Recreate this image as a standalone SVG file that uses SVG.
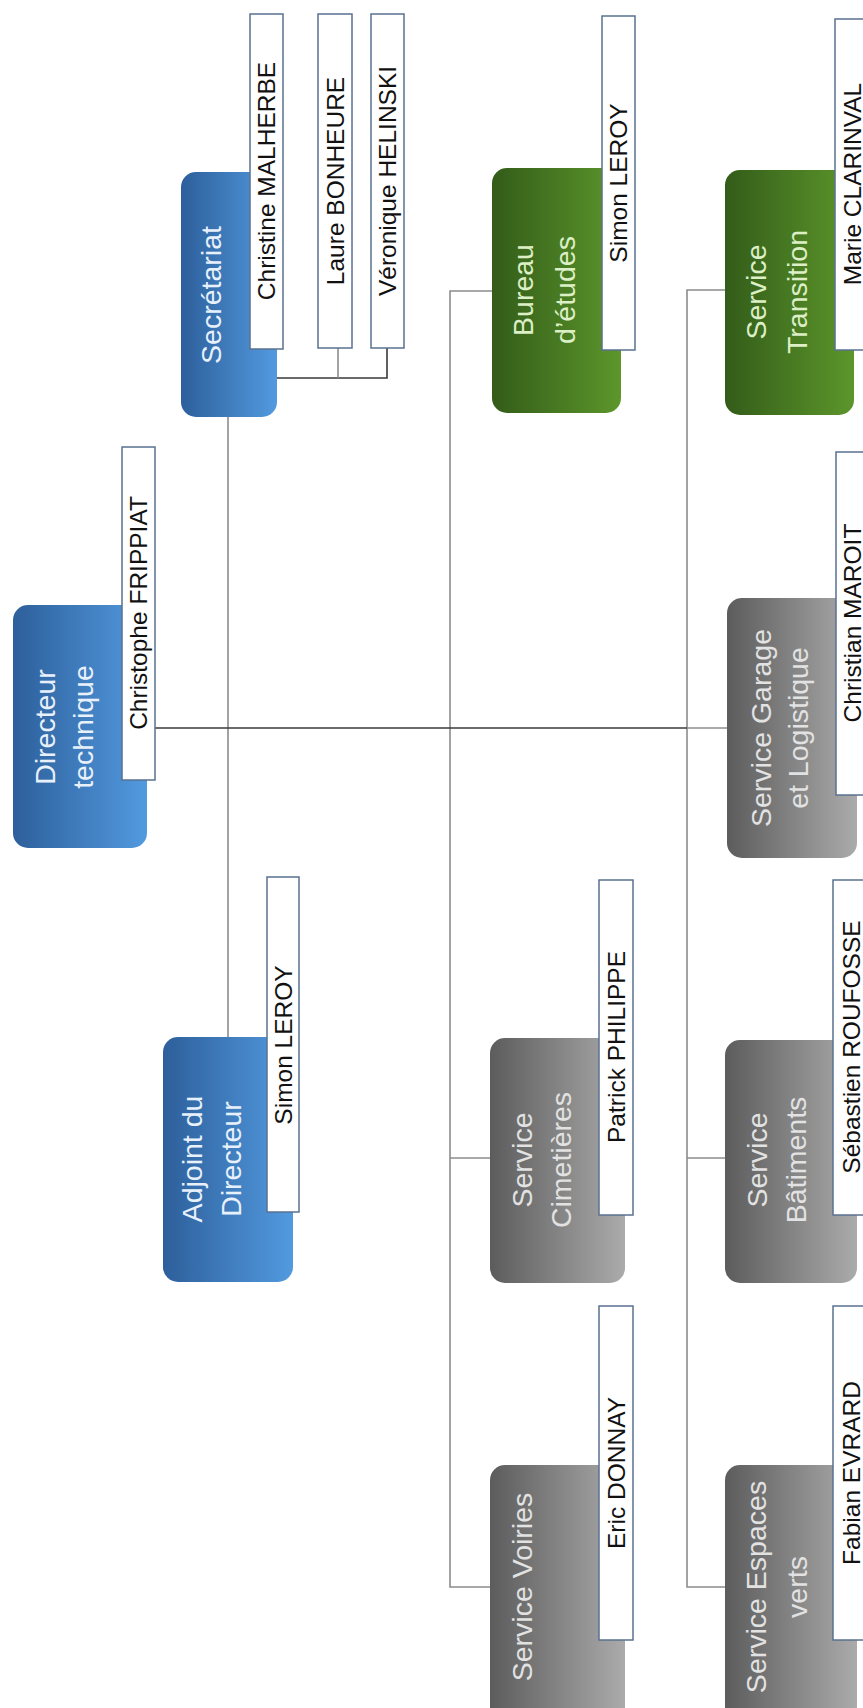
<svg xmlns="http://www.w3.org/2000/svg" width="863" height="1708" viewBox="0 0 863 1708">
<defs>
<linearGradient id="gBlue" x1="0" y1="0" x2="1" y2="0"><stop offset="0" stop-color="#2d5f9b"/><stop offset="1" stop-color="#529adf"/></linearGradient>
<linearGradient id="gGreen" x1="0" y1="0" x2="1" y2="0"><stop offset="0" stop-color="#335c19"/><stop offset="1" stop-color="#5c962b"/></linearGradient>
<linearGradient id="gGray" x1="0" y1="0" x2="1" y2="0"><stop offset="0" stop-color="#5c5c5c"/><stop offset="1" stop-color="#ababab"/></linearGradient>
<style>
.blue{fill:url(#gBlue)}
.green{fill:url(#gGreen)}
.gray{fill:url(#gGray)}
.nb{fill:#ffffff;stroke:#5a7290;stroke-width:1.5}
.t{font-family:"Liberation Sans",Arial,sans-serif;font-size:28.5px;text-anchor:middle;dominant-baseline:central}
.tb{fill:#e8f1fb}
.tg{fill:#dcefc6}
.tgr{fill:#e2e2e2}
.n{font-family:"Liberation Sans",Arial,sans-serif;font-size:24.5px;fill:#111;text-anchor:middle;dominant-baseline:central}
.cg{fill:none;stroke:#8c8c8c;stroke-width:1.6}
.cd{fill:none;stroke:#3a3a3a;stroke-width:1.6}
</style>
</defs>
<rect width="863" height="1708" fill="#ffffff"/>

<g id="connectors">
<path class="cg" d="M228 417 V1037"/>
<path class="cg" d="M492 291 H450 V1587 H490"/>
<path class="cg" d="M450 1158 H490"/>
<path class="cg" d="M725 290 H687 V1587 H725"/>
<path class="cg" d="M687 1158 H725"/>
<path class="cg" d="M687 728 H727"/>
<path class="cd" d="M155 728 H687"/>
<path class="cd" d="M277 378 H387 V348"/>
<path class="cg" d="M338 348 V378"/>
</g>

<g id="directeur">
<rect class="blue" x="13" y="605" width="134" height="243" rx="15"/>
<text class="t tb" transform="translate(45,727) rotate(-90)">Directeur</text>
<text class="t tb" transform="translate(83,727) rotate(-90)">technique</text>
<rect class="nb" x="122" y="447" width="33" height="333"/>
<text class="n" transform="translate(138.5,613) rotate(-90)">Christophe FRIPPIAT</text>
</g>

<g id="secretariat">
<rect class="blue" x="181" y="172" width="96" height="245" rx="15"/>
<text class="t tb" transform="translate(211,295) rotate(-90)">Secrétariat</text>
<rect class="nb" x="250" y="14" width="33" height="335"/>
<text class="n" transform="translate(266.5,181) rotate(-90)">Christine MALHERBE</text>
</g>

<g id="laure">
<rect class="nb" x="318" y="14" width="34" height="334"/>
<text class="n" transform="translate(335,181) rotate(-90)">Laure BONHEURE</text>
</g>

<g id="veronique">
<rect class="nb" x="371" y="14" width="33" height="334"/>
<text class="n" transform="translate(387.5,181) rotate(-90)">Véronique HELINSKI</text>
</g>

<g id="adjoint">
<rect class="blue" x="163" y="1037" width="130" height="245" rx="15"/>
<text class="t tb" transform="translate(192,1159) rotate(-90)">Adjoint du</text>
<text class="t tb" transform="translate(231,1159) rotate(-90)">Directeur</text>
<rect class="nb" x="267" y="877" width="32" height="335"/>
<text class="n" transform="translate(283,1045) rotate(-90)">Simon LEROY</text>
</g>

<g id="bureau">
<rect class="green" x="492" y="168" width="129" height="245" rx="15"/>
<text class="t tg" transform="translate(523,290) rotate(-90)">Bureau</text>
<text class="t tg" transform="translate(565,290) rotate(-90)">d’études</text>
<rect class="nb" x="602" y="16" width="33" height="334"/>
<text class="n" transform="translate(618.5,183) rotate(-90)">Simon LEROY</text>
</g>

<g id="transition">
<rect class="green" x="725" y="170" width="129" height="245" rx="15"/>
<text class="t tg" transform="translate(756,292) rotate(-90)">Service</text>
<text class="t tg" transform="translate(797,292) rotate(-90)">Transition</text>
<rect class="nb" x="835" y="19" width="34" height="331"/>
<text class="n" transform="translate(852,184) rotate(-90)">Marie CLARINVAL</text>
</g>

<g id="garage">
<rect class="gray" x="727" y="598" width="130" height="260" rx="15"/>
<text class="t tgr" transform="translate(761,728) rotate(-90)">Service Garage</text>
<text class="t tgr" transform="translate(798,728) rotate(-90)">et Logistique</text>
<rect class="nb" x="836" y="452" width="33" height="343"/>
<text class="n" transform="translate(852.5,623) rotate(-90)">Christian MAROIT</text>
</g>

<g id="cimetieres">
<rect class="gray" x="490" y="1038" width="135" height="245" rx="15"/>
<text class="t tgr" transform="translate(522,1160) rotate(-90)">Service</text>
<text class="t tgr" transform="translate(561,1160) rotate(-90)">Cimetières</text>
<rect class="nb" x="599" y="880" width="34" height="335"/>
<text class="n" transform="translate(616,1047) rotate(-90)">Patrick PHILIPPE</text>
</g>

<g id="batiments">
<rect class="gray" x="725" y="1040" width="132" height="243" rx="15"/>
<text class="t tgr" transform="translate(757,1160) rotate(-90)">Service</text>
<text class="t tgr" transform="translate(796,1160) rotate(-90)">Bâtiments</text>
<rect class="nb" x="833" y="880" width="36" height="335"/>
<text class="n" transform="translate(851,1047) rotate(-90)">Sébastien ROUFOSSE</text>
</g>

<g id="voiries">
<rect class="gray" x="490" y="1465" width="135" height="260" rx="15"/>
<text class="t tgr" transform="translate(522,1587) rotate(-90)">Service Voiries</text>
<rect class="nb" x="599" y="1306" width="34" height="334"/>
<text class="n" transform="translate(616,1473) rotate(-90)">Eric DONNAY</text>
</g>

<g id="espaces">
<rect class="gray" x="725" y="1465" width="132" height="260" rx="15"/>
<text class="t tgr" transform="translate(756,1587) rotate(-90)">Service Espaces</text>
<text class="t tgr" transform="translate(797,1587) rotate(-90)">verts</text>
<rect class="nb" x="833" y="1306" width="36" height="334"/>
<text class="n" transform="translate(851,1473) rotate(-90)">Fabian EVRARD</text>
</g>
</svg>
